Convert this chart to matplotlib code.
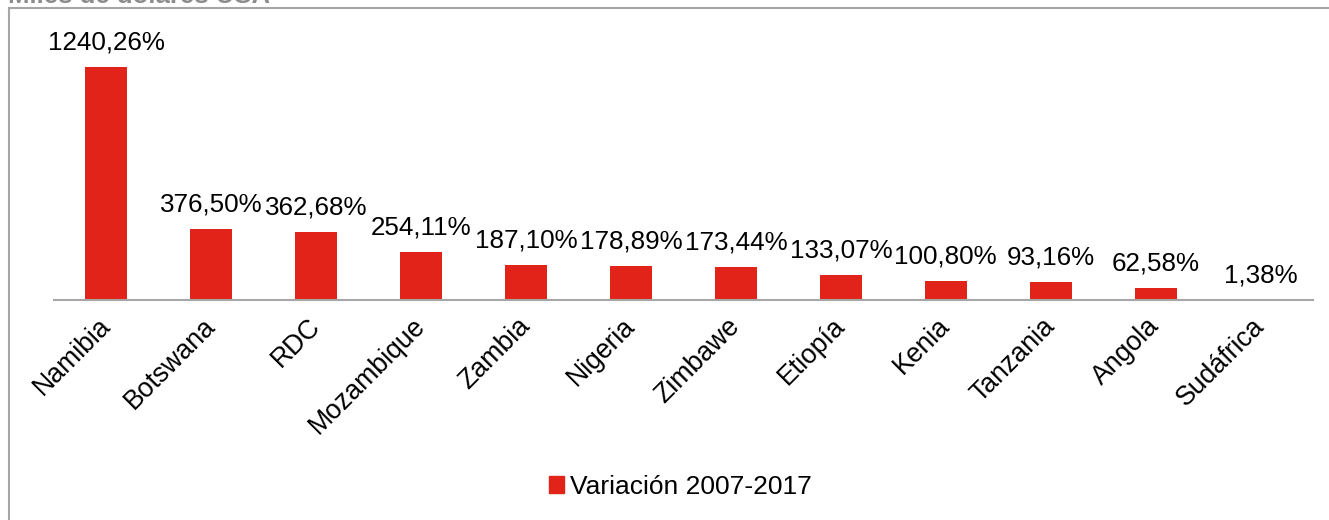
import matplotlib.pyplot as plt
from matplotlib.patches import Rectangle
from matplotlib.lines import Line2D

plt.rcParams["font.family"] = ["Liberation Sans", "DejaVu Sans"]

countries = ["Namibia", "Botswana", "RDC", "Mozambique", "Zambia", "Nigeria",
             "Zimbawe", "Etiopía", "Kenia", "Tanzania", "Angola", "Sudáfrica"]
variation = [1240.26, 376.50, 362.68, 254.11, 187.10, 178.89,
             173.44, 133.07, 100.80, 93.16, 62.58, 1.38]
series_name = "Variación 2007-2017"
unit_text = "Miles de dólares USA"

BAR_COLOR = "#e2231a"
GRAY = "#a6a6a6"
W, H = 1329, 520

fig = plt.figure(figsize=(W / 100, H / 100), dpi=100)
ax = fig.add_axes([54 / W, 1 - 300 / H, (1313 - 54) / W, (300 - 20) / H])

x = list(range(len(countries)))
bars = ax.bar(x, variation, width=0.4, color=BAR_COLOR, label=series_name, zorder=2)

for xi, v in zip(x, variation):
    txt = f"{v:.2f}".replace(".", ",") + "%"
    ax.annotate(txt, (xi, v), xytext=(0, 9), textcoords="offset points",
                ha="center", va="bottom", fontsize=18.7, color="black")

ax.set_xlim(-0.5, len(countries) - 0.5)
ax.set_ylim(0, 1490)
ax.set_yticks([])
ax.set_xticks(x)
ax.set_xticklabels(countries, rotation=45, ha="right", va="center",
                   rotation_mode="anchor", fontsize=19.2)
ax.tick_params(axis="x", length=0, pad=16)
for side in ["top", "right", "left"]:
    ax.spines[side].set_visible(False)
ax.spines["bottom"].set_color(GRAY)
ax.spines["bottom"].set_linewidth(1.5)

# chart frame (partly cut off by the crop)
fig.add_artist(Line2D([9 / W, 9 / W], [0, 1 - 8 / H], transform=fig.transFigure,
                      color=GRAY, lw=1.5))
fig.add_artist(Line2D([9 / W, 1], [1 - 8 / H, 1 - 8 / H], transform=fig.transFigure,
                      color=GRAY, lw=1.5))
fig.text(8 / W, 1 - 3 / H, unit_text, fontsize=18.5, color="#8c8c8c",
         fontweight="bold", va="baseline", ha="left")

handles = [Rectangle((0, 0), 1, 1, color=BAR_COLOR)]
fig.legend(handles, [series_name], loc="center", bbox_to_anchor=(680 / W, 1 - 487 / H),
           frameon=False, fontsize=19, handlelength=0.6, handleheight=0.6,
           handletextpad=0.2)

fig.savefig("out.png", dpi=100)
